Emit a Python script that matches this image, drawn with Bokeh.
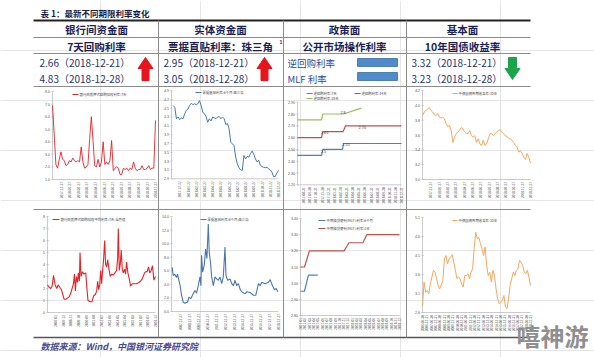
import numpy as np
from bokeh.plotting import figure
from bokeh.models import Range1d
from bokeh.core.properties import value
from bokeh.embed import file_html
from bokeh.resources import INLINE

# ---------------- data ----------------
title = "表 1：最新不同期限利率变化"
col_heads = ["银行间资金面", "实体资金面", "政策面", "基本面"]
sub_heads = ["7天回购利率", "票据直贴利率：珠三角", "公开市场操作利率", "10年国债收益率"]
interbank_rows = ["2.66（2018-12-21）", "4.83（2018-12-28）"]
bill_rows = ["2.95（2018-12-21）", "3.05（2018-12-28）"]
policy_rows = ["逆回购利率", "MLF 利率"]
bond_rows = ["3.32（2018-12-21）", "3.23（2018-12-28）"]
source_note = "数据来源：Wind，中国银河证券研究院"
watermark = "嘻神游"

# chart 1: interbank pledged repo weighted rate 7D (weekly)
c1_name = "银行间质押式回购加权利率:7天"
c1_values = [6.9, 4.6, 2.2, 1.9, 2.6, 3.2, 2.6, 2.5, 2.1, 2.2, 2.5, 2.4, 2.7, 2.5, 2.4, 2.5,
             2.4, 3.6, 2.4, 1.9, 2.0, 2.2, 4.2, 6.0, 4.1, 2.1, 2.0, 2.6, 2.0, 2.4, 4.0, 2.2,
             2.4, 2.2, 2.5, 4.1, 1.7, 1.9, 2.0, 1.9, 1.4, 1.4, 1.9, 1.8, 1.9, 1.7, 1.9, 1.8,
             2.4, 1.9, 1.7, 1.8, 1.8, 2.1, 1.8, 1.8, 1.9, 2.1, 1.8, 1.9, 1.9, 5.7]
c1_yticks = [1, 2, 3, 4, 5, 6, 7, 8]
c1_ylabels = ["1.0", "2.0", "3.0", "4.0", "5.0", "6.0", "7.0", "8.0"]
c1_xlabels = ["2017-12-27", "2018-01-27", "2018-02-27", "2018-03-27", "2018-04-27", "2018-05-27",
              "2018-06-27", "2018-07-27", "2018-08-27", "2018-09-27", "2018-10-27", "2018-11-27"]

# chart 2: bill discount rate 6M, Pearl River Delta (recent year)
c2_name = "票据直贴利率:6个月:珠三角"
c2_values = [4.56, 4.52, 4.26, 4.30, 4.24, 4.28, 4.26, 4.37, 4.45, 4.48, 4.56, 4.61, 4.58, 4.60,
             4.58, 4.60, 4.67, 4.56, 4.41, 4.37, 4.31, 4.18, 4.26, 4.21, 4.30, 4.28, 4.26, 4.30,
             4.31, 4.26, 4.30, 4.26, 4.13, 4.15, 4.03, 3.73, 3.69, 3.65, 3.39, 3.24, 3.15, 3.10,
             3.09, 3.43, 3.35, 3.41, 3.39, 3.47, 3.53, 3.45, 3.35, 3.28, 3.32, 3.20, 3.18, 3.16,
             3.15, 3.16, 3.13, 3.10, 3.05, 2.95, 2.95, 3.03, 3.09]
c2_yticks = [2.9, 3.1, 3.3, 3.5, 3.7, 3.9, 4.1, 4.3, 4.5, 4.7, 4.9]
c2_ylabels = ["2.9", "3.1", "3.3", "3.5", "3.7", "3.9", "4.1", "4.3", "4.5", "4.7", "4.9"]
c2_xlabels = ["2017-12-27", "2018-01-27", "2018-02-27", "2018-03-27", "2018-04-27", "2018-05-27",
              "2018-06-27", "2018-07-27", "2018-08-27", "2018-09-27", "2018-10-27", "2018-11-27",
              "2018-12-27"]

# chart 3: reverse repo rates (months since 2017-08)
c3_names = ["逆回购利率:7天", "逆回购利率:14天", "逆回购利率:28天"]
c3_7d_month = [0, 3.7, 3.9, 6.9, 7.1, 16]
c3_7d_rate = [2.45, 2.45, 2.50, 2.50, 2.55, 2.55]
c3_14d_month = [0, 3.7, 3.9, 7.0, 7.4, 16]
c3_14d_rate = [2.60, 2.60, 2.65, 2.65, 2.70, 2.70]
c3_28d_month = [0, 3.7, 3.9, 7.1, 9.8]
c3_28d_rate = [2.75, 2.75, 2.80, 2.80, 2.85]
c3_notes = ["2.5", "2.55", "2.65", "2.70", "2.8"]
c3_note_month = [3.6, 6.9, 3.6, 9.4, 6.6]
c3_note_rate = [2.485, 2.54, 2.64, 2.685, 2.815]
c3_yticks = [2.2, 2.3, 2.4, 2.5, 2.6, 2.7, 2.8, 2.9]
c3_ylabels = ["2.20", "2.30", "2.40", "2.50", "2.60", "2.70", "2.80", "2.90"]
c3_xlabels = ["2017-08-31", "2017-09-30", "2017-10-31", "2017-11-30", "2017-12-31", "2018-01-31",
              "2018-02-28", "2018-03-31", "2018-04-30", "2018-05-31", "2018-06-30", "2018-07-31",
              "2018-08-31", "2018-09-30", "2018-10-31", "2018-11-30", "2018-12-31"]

# chart 4: 10Y government bond yield (recent year)
c4_name = "中债国债到期收益率:10年"
c4_values = [3.86, 3.91, 3.93, 3.95, 3.97, 3.93, 3.91, 3.88, 3.86, 3.89, 3.84, 3.83, 3.84, 3.82,
             3.75, 3.71, 3.73, 3.66, 3.50, 3.57, 3.62, 3.64, 3.67, 3.70, 3.68, 3.64, 3.62, 3.62,
             3.66, 3.59, 3.57, 3.59, 3.50, 3.55, 3.48, 3.46, 3.53, 3.46, 3.48, 3.55, 3.62, 3.62,
             3.59, 3.62, 3.64, 3.66, 3.67, 3.64, 3.62, 3.59, 3.58, 3.56, 3.55, 3.53, 3.50, 3.46,
             3.44, 3.37, 3.39, 3.35, 3.30, 3.27, 3.35, 3.30, 3.22]
c4_yticks = [3.0, 3.2, 3.4, 3.6, 3.8, 4.0, 4.2]
c4_ylabels = ["3.0", "3.2", "3.4", "3.6", "3.8", "4.0", "4.2"]
c4_xlabels = c2_xlabels

# chart 5: interbank repo 7D monthly average (months since 2007-01)
c5_name = "银行间质押式回购加权平均利率:7天:当月值"
c5_month = [0, 2.2, 4.4, 6.2, 8.0, 10.2, 12.4, 14.2, 16.4, 18.6, 20.4, 22.2, 24.4, 26.6, 28.8,
            31.0, 32.8, 34.6, 35.9, 37.2, 38.5, 39.9, 41.2, 42.5, 43.4, 44.7, 46.5, 48.7, 51.0,
            52.3, 54.0, 56.7, 59.4, 61.6, 63.8, 65.6, 66.9, 68.2, 69.6, 70.9, 72.2, 73.5, 74.9,
            76.2, 77.5, 78.9, 80.2, 82.0, 83.7, 85.5, 87.7, 89.9, 92.1, 93.5, 94.4, 95.7, 97.0,
            98.3, 99.7, 101.0, 102.8, 104.1, 105.4, 107.2, 109.0, 110.8, 113.0, 115.2, 118.7,
            121.8, 124.0, 126.3, 127.6, 129.4, 131.1, 132.9, 134.7, 136.4, 138.2, 140.0, 141.8,
            144.0]
c5_rate = [2.3, 2.1, 2.0, 2.2, 3.1, 2.3, 2.0, 2.3, 2.1, 1.9, 1.5, 1.1, 1.1, 1.2, 1.3, 1.6, 2.0,
           2.4, 3.2, 1.8, 3.0, 2.5, 3.3, 2.6, 5.0, 3.0, 3.4, 3.2, 3.3, 2.2, 1.0, 0.9, 0.9, 1.4,
           1.5, 1.8, 2.6, 1.9, 2.3, 3.5, 2.4, 3.5, 4.5, 6.0, 4.0, 3.8, 4.4, 3.6, 3.0, 3.2, 3.1,
           3.3, 3.5, 4.5, 7.0, 3.5, 4.0, 5.2, 3.6, 3.3, 3.6, 3.2, 4.2, 3.3, 2.8, 2.2, 2.4, 2.4,
           2.4, 2.5, 2.6, 2.8, 3.0, 3.3, 3.4, 3.4, 3.8, 3.3, 3.5, 3.9, 2.7, 3.0]
c5_yticks = [0, 1, 2, 3, 4, 5, 6, 7, 8]
c5_ylabels = ["0", "1", "2", "3", "4", "5", "6", "7", "8"]
c5_xlabels = ["2007-01", "2007-12", "2008-11", "2009-10", "2010-09", "2011-08", "2012-07",
              "2013-06", "2014-05", "2015-04", "2016-03", "2017-02", "2018-01", "2018-12"]

# chart 6: bill discount rate 6M, Pearl River Delta (long history, months since 2007-12)
c6_name = "票据直贴利率:6个月:珠三角"
c6_month = [0.8, 2.1, 4.1, 6.2, 7.4, 9.1, 10.7, 12.4, 14.4, 16.5, 19.8, 21.5, 23.9, 26.8, 28.9,
            30.9, 33.0, 35.1, 36.3, 37.1, 38.4, 40.4, 42.1, 43.7, 45.4, 46.6, 48.3, 49.5, 51.6,
            53.6, 55.7, 57.8, 59.8, 61.9, 63.9, 66.0, 67.2, 69.3, 72.2, 74.3, 76.3, 78.4, 80.4,
            82.5, 84.6, 86.6, 90.8, 92.8, 96.9, 101.1, 104.0, 107.3, 109.3, 111.4, 115.5, 119.6,
            121.7, 124.6, 127.1, 129.1, 131.2]
c6_rate = [6.5, 5.3, 5.5, 5.0, 5.5, 4.6, 3.8, 2.4, 1.4, 1.2, 1.4, 2.1, 1.9, 2.6, 3.1, 2.7, 3.8,
           5.1, 3.8, 8.3, 5.8, 6.8, 9.2, 7.8, 12.9, 8.7, 7.0, 5.1, 3.8, 5.1, 4.8, 4.6, 5.1, 4.1,
           5.1, 9.5, 5.3, 4.6, 4.8, 4.1, 3.8, 4.6, 3.8, 4.1, 3.3, 2.9, 2.6, 2.9, 2.8, 2.4, 2.4,
           4.1, 3.8, 4.3, 4.1, 4.3, 4.7, 3.8, 3.2, 3.4, 2.9]
c6_yticks = [0, 2, 4, 6, 8, 10, 12, 14]
c6_ylabels = ["0.0", "2.0", "4.0", "6.0", "8.0", "10.0", "12.0", "14.0"]
c6_xlabels = ["2007-12-27", "2008-12-27", "2009-12-27", "2010-12-27", "2011-12-27", "2012-12-27",
              "2013-12-27", "2014-12-27", "2015-12-27", "2016-12-27", "2017-12-27", "2018-12-27"]

# chart 7: MLF rates (percent of period elapsed, 2017-01 .. 2018-12)
c7_names = ["中期借贷便利(MLF):利率:6个月", "中期借贷便利(MLF):利率:1年"]
c7_6m_t = [0, 4, 8, 17.5]
c7_6m_rate = [2.95, 2.95, 3.05, 3.05]
c7_1y_t = [0, 4, 9, 44, 49, 63, 67, 100]
c7_1y_rate = [3.10, 3.10, 3.20, 3.20, 3.25, 3.25, 3.30, 3.30]
c7_yticks = [2.8, 2.9, 3.0, 3.1, 3.2, 3.3, 3.4]
c7_ylabels = ["2.80", "2.90", "3.00", "3.10", "3.20", "3.30", "3.40"]
c7_xlabels = ["2017-01", "2017-02", "2017-03", "2017-04", "2017-05", "2017-06", "2017-07",
              "2017-08", "2017-09", "2017-10", "2017-11", "2017-12", "2018-01", "2018-02",
              "2018-03", "2018-04", "2018-05", "2018-06", "2018-07", "2018-08", "2018-09",
              "2018-10", "2018-11", "2018-12"]

# chart 8: 10Y government bond yield (long history)
c8_name = "中债国债到期收益率:10年"
c8_values = [2.78, 3.40, 3.13, 3.18, 3.09, 3.36, 3.53, 3.71, 3.66, 3.50, 3.31, 3.22, 3.33, 3.44,
             4.01, 4.10, 3.88, 4.01, 4.06, 4.12, 3.92, 3.71, 3.49, 3.53, 3.49, 3.35, 3.27, 3.57,
             3.57, 3.62, 3.49, 3.66, 3.75, 4.28, 4.71, 4.54, 4.58, 4.41, 4.28, 4.10, 4.32, 3.84,
             3.57, 3.66, 3.40, 3.71, 3.57, 3.22, 2.96, 2.83, 2.87, 2.92, 3.05, 2.74, 2.70, 2.96,
             3.31, 3.49, 3.66, 3.57, 3.71, 3.75, 3.97, 3.92, 3.84, 3.66, 3.62, 3.71, 3.53, 3.31]
c8_yticks = [2.6, 3.1, 3.6, 4.1, 4.6, 5.1]
c8_ylabels = ["2.6", "3.1", "3.6", "4.1", "4.6", "5.1"]
c8_xlabels = ["2006-06-30", "2006-12-31", "2007-06-30", "2007-12-31", "2008-06-30", "2008-12-31",
              "2009-06-30", "2009-12-31", "2010-06-30", "2010-12-31", "2011-06-30", "2011-12-31",
              "2012-06-30", "2012-12-31", "2013-06-30", "2013-12-31", "2014-06-30", "2014-12-31",
              "2015-06-30", "2015-12-31", "2016-06-30", "2016-12-31", "2017-06-30", "2017-12-31",
              "2018-06-30", "2018-12-31"]

# ---------------- styles ----------------
CJK = "Noto Sans CJK SC"
LAT = "Liberation Sans"
HEAD_C = "#1b1f55"
NUM_C = "#26326e"
AXC = "#b5b5b5"
TICK_C = "#555555"
RED = "#e3232a"
BLUE = "#4a76b5"
XL_BLUE, XL_RED, XL_GREEN = "#4f81bd", "#c0504d", "#9bbb59"
ORANGE = "#f5a75e"

W, H = 594, 357
p = figure(width=W, height=H, x_range=Range1d(0, W), y_range=Range1d(H, 0),
           x_axis_location=None, y_axis_location=None, toolbar_location=None,
           output_backend="svg", min_border=0, outline_line_color=None)
p.background_fill_color = "white"
p.border_fill_color = "white"


def ptext(x, y, s, size, color, font=CJK, style="normal", align="left"):
    p.text(x=[x], y=[y], text=[s], text_font=value(font), text_font_size=f"{size}px",
           text_color=color, text_align=align, text_baseline="middle", text_font_style=style)


# ---------------- table frame ----------------
TL, TR = 33, 530
p.line(x=[TL, TR], y=[20, 20], line_color="#222222", line_width=2)
for yy in [37, 53, 86, 209]:
    p.line(x=[TL, TR], y=[yy, yy], line_color="#8c8c8c", line_width=1)
p.line(x=[TL, TR], y=[337, 337], line_color="#555555", line_width=1.6)
for xx in [158, 283, 406]:
    p.line(x=[xx, xx], y=[20, 337], line_color="#8c8c8c", line_width=1)

ptext(40, 12, title, 8.5, "#1a1a40", style="bold")
centers = [96, 220, 344, 462]
for cx, h in zip(centers, col_heads):
    ptext(cx, 29, h, 10.5, HEAD_C, style="bold", align="center")
for cx, h in zip(centers, sub_heads):
    ptext(cx, 45.5, h, 10.5, HEAD_C, style="bold", align="center")
ptext(279, 41, "1", 5, HEAD_C, font=LAT, style="bold")

for i, yy in enumerate([62, 78]):
    ptext(39, yy, interbank_rows[i], 10, NUM_C)
    ptext(163, yy, bill_rows[i], 10, NUM_C)
    ptext(287, yy, policy_rows[i], 9.5, "#2d4a9a")
    ptext(411, yy, bond_rows[i], 10, NUM_C)

# blue bars for policy rates
p.quad(left=[357, 357], right=[397, 397], top=[58, 72], bottom=[66, 80],
       fill_color="#4e8ccc", line_color="#3a6ea5", line_width=0.8)


def up_arrow(cx, top, bot, color):
    hw, sw, hh = 7.5, 3.5, 11
    xs = [cx, cx + hw, cx + sw, cx + sw, cx - sw, cx - sw, cx - hw]
    ys = [top, top + hh, top + hh, bot, bot, top + hh, top + hh]
    p.patch(x=xs, y=ys, fill_color=color, line_color=color)


def down_arrow(cx, top, bot, color):
    hw, sw, hh = 7.5, 4, 11
    xs = [cx - sw, cx + sw, cx + sw, cx + hw, cx, cx - hw, cx - sw]
    ys = [top, top, bot - hh, bot - hh, bot, bot - hh, bot - hh]
    p.patch(x=xs, y=ys, fill_color=color, line_color=color)


up_arrow(145, 57, 80, "#e8141c")
up_arrow(264, 57, 80, "#e8141c")
down_arrow(512, 57, 79, "#1aa54a")


# ---------------- mini charts ----------------
def mini(box, xr, yr, yticks, ylabels, xlabels, series):
    x0, x1, ytop, ybot = box
    sub = p.subplot(x_source=Range1d(*xr), y_source=Range1d(*yr),
                    x_target=Range1d(x0, x1), y_target=Range1d(ybot, ytop))
    sub.line(x=[xr[0], xr[0]], y=[yr[0], yr[1]], line_color=AXC, line_width=0.7)
    sub.line(x=[xr[0], xr[1]], y=[yr[0], yr[0]], line_color=AXC, line_width=0.7)
    n = len(yticks)
    sub.scatter(x=[xr[0]] * n, y=yticks, marker="dash", size=2.5, line_color=AXC, line_width=0.6)
    sub.text(x=[xr[0]] * n, y=yticks, text=ylabels, x_offset=-2.5, text_align="right",
             text_baseline="middle", text_font=value(LAT), text_font_size="3.6px", text_color=TICK_C)
    xt = np.linspace(xr[0], xr[1], len(xlabels) + 1)[1:] if len(xlabels) < 20 else np.linspace(xr[0], xr[1], len(xlabels))
    sub.text(x=xt, y=[yr[0]] * len(xt), text=xlabels, angle=np.pi / 2, y_offset=2.5,
             text_align="right", text_baseline="middle", text_font=value(LAT),
             text_font_size="3.2px", text_color=TICK_C)
    for xs, ys, color, w in series:
        sub.line(x=xs, y=ys, line_color=color, line_width=w)
    return sub


def legend_item(x, y, color, label, length=6):
    p.line(x=[x, x + length], y=[y, y], line_color=color, line_width=1.2)
    ptext(x + length + 1, y, label, 3.4, "#444444")


# chart 1
mini((52, 155, 91, 179), (0, len(c1_values) - 1), (1.0, 8.0), c1_yticks, c1_ylabels, c1_xlabels,
     [(list(range(len(c1_values))), c1_values, RED, 0.9)])
legend_item(72, 94, RED, c1_name)

# chart 2
mini((171, 278, 90, 178.3), (-1, len(c2_values) - 1), (2.9, 4.9), c2_yticks, c2_ylabels, c2_xlabels,
     [(list(range(len(c2_values))), c2_values, BLUE, 1.0)])
legend_item(195, 92, BLUE, c2_name)

# chart 3
s3 = mini((297, 401, 101.7, 184.3), (0, 16), (2.2, 2.9), c3_yticks, c3_ylabels, c3_xlabels,
          [(c3_7d_month, c3_7d_rate, XL_BLUE, 1.2),
           (c3_14d_month, c3_14d_rate, XL_RED, 1.2),
           (c3_28d_month, c3_28d_rate, XL_GREEN, 1.2)])
s3.text(x=c3_note_month, y=c3_note_rate, text=c3_notes, text_align="left", text_baseline="middle",
        text_font=value(LAT), text_font_size="3.8px", text_color="#404040")
legend_item(306, 93, XL_BLUE, c3_names[0])
legend_item(354, 93, XL_RED, c3_names[1])
legend_item(306, 98, XL_GREEN, c3_names[2])

# chart 4
mini((422, 530, 90, 179), (0, len(c4_values) - 1), (3.0, 4.2), c4_yticks, c4_ylabels, c4_xlabels,
     [(list(range(len(c4_values))), c4_values, ORANGE, 1.0)])
legend_item(452, 93, ORANGE, c4_name, length=5)

# chart 5
mini((47, 155, 216, 312), (0, 144), (0, 8), c5_yticks, c5_ylabels, c5_xlabels,
     [(c5_month, c5_rate, RED, 1.1)])
legend_item(52, 219, RED, c5_name, length=7)

# chart 6
mini((171, 278, 216, 311), (0, 132), (0, 14), c6_yticks, c6_ylabels, c6_xlabels,
     [(c6_month, c6_rate, BLUE, 1.1)])
legend_item(200, 219, BLUE, c6_name)

# chart 7
mini((300, 399, 218, 315), (0, 100), (2.8, 3.4), c7_yticks, c7_ylabels, c7_xlabels,
     [(c7_6m_t, c7_6m_rate, XL_BLUE, 1.2), (c7_1y_t, c7_1y_rate, XL_RED, 1.2)])
legend_item(318, 220, XL_BLUE, c7_names[0], length=7)
legend_item(318, 228, XL_RED, c7_names[1], length=7)

# chart 8
mini((422, 530, 217, 312), (0, len(c8_values) - 1), (2.6, 5.1), c8_yticks, c8_ylabels, c8_xlabels,
     [(list(range(len(c8_values))), c8_values, ORANGE, 1.0)])
legend_item(452, 220, ORANGE, c8_name, length=5)

# ---------------- footer ----------------
ptext(40, 346, source_note, 9, "#4a4a8c", style="bold italic")
ptext(552, 335, watermark, 24, "#8f8f8f", style="bold", align="center")

open("out.html", "w").write(file_html(p, INLINE))
